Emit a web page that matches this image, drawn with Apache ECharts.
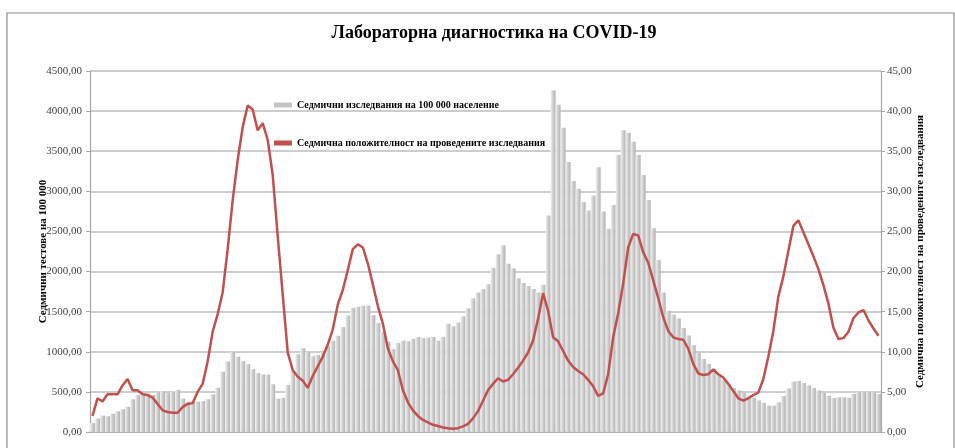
<!DOCTYPE html>
<html>
<head>
<meta charset="utf-8">
<script src="https://cdn.jsdelivr.net/npm/echarts@6/dist/echarts.min.js"></script>
<style>
html,body{margin:0;padding:0;background:#fff;}
#c{width:955px;height:448px;}
</style>
</head>
<body>
<div id="c"></div>
<script>
// Weekly tests per 100 000 population (left axis)
const testsPer100k = [
110,168,204,196,228,259,283,314,409,461,
482,480,464,500,508,485,500,526,416,378,
378,378,384,409,469,551,752,880,996,939,
882,846,783,734,718,715,595,416,425,588,
767,970,1045,997,945,960,996,1070,1137,1199,
1308,1452,1547,1562,1574,1577,1456,1359,1250,1127,
1035,1109,1139,1131,1162,1185,1170,1177,1186,1137,
1187,1350,1318,1365,1442,1541,1667,1739,1782,1842,
2046,2215,2328,2097,2040,1915,1856,1820,1784,1739,
1834,2700,4260,4079,3794,3366,3129,3033,2867,2760,
2947,3300,2750,2534,2830,3454,3761,3729,3619,3453,
3204,2892,2539,2144,1739,1511,1465,1417,1298,1203,
1083,985,911,848,783,722,659,596,548,518,
487,456,425,394,363,330,329,370,449,543,
628,636,611,581,550,519,487,450,423,434,
432,428,475,495,503,500,491,474
];
// Weekly positivity of performed tests, % (right axis)
const positivity = [
2.0,4.2,3.8,4.7,4.7,4.7,5.8,6.6,5.2,5.2,
4.7,4.6,4.3,3.5,2.7,2.5,2.4,2.4,3.1,3.5,
3.6,5.0,6.0,8.8,12.5,14.7,17.4,22.8,28.9,33.9,
38.0,40.7,40.2,37.6,38.5,36.4,32.0,24.4,17.1,9.9,
7.7,6.9,6.4,5.5,7.0,8.2,9.4,10.9,12.8,15.9,
17.7,20.2,22.8,23.4,23.0,21.0,18.4,15.7,13.5,10.4,
8.8,7.7,5.2,3.7,2.7,2.0,1.5,1.2,0.9,0.75,
0.56,0.47,0.41,0.48,0.7,1.0,1.7,2.6,3.9,5.2,
6.0,6.7,6.3,6.5,7.2,8.0,8.9,9.9,11.4,14.1,
17.3,15.1,11.8,11.3,10.1,8.9,8.1,7.6,7.2,6.5,
5.7,4.5,4.8,7.2,11.8,14.8,18.5,23.0,24.7,24.5,
22.4,21.1,18.9,16.7,14.3,12.6,11.8,11.6,11.5,10.4,
8.5,7.3,7.1,7.2,7.8,7.2,6.8,6.0,5.1,4.2,
3.9,4.2,4.6,4.9,6.6,9.4,12.6,16.9,19.4,22.6,
25.7,26.4,24.9,23.4,21.9,20.3,18.3,16.0,13.0,11.6,
11.7,12.5,14.2,14.9,15.2,13.9,12.9,12.0
];
const weeks = testsPer100k.map((_, i) => String(i + 1));
const titleText = 'Лабораторна диагностика на COVID-19';
const barName = 'Седмични изследвания на 100 000 население';
const lineName = 'Седмична положителност на проведените изследвания';
const leftAxisName = 'Седмични тестове на 100 000';
const rightAxisName = 'Седмична положителност на проведените изследвания';

const FONT = '"Liberation Serif", "Times New Roman", serif';
const fmt = v => v.toFixed(2).replace('.', ',');

const chart = echarts.init(document.getElementById('c'), null, {renderer: 'canvas'});
chart.setOption({
  animation: false,
  backgroundColor: '#fff',
  textStyle: {fontFamily: FONT},
  graphic: [{
    type: 'rect',
    shape: {x: 7, y: 13, width: 947, height: 450},
    style: {fill: 'none', stroke: '#8c8c8c', lineWidth: 1.2},
    silent: true, z: -1
  }],
  title: {
    text: titleText,
    left: 489, top: 19, textAlign: 'center',
    textStyle: {fontFamily: FONT, fontWeight: 'bold', fontSize: 18, color: '#000'}
  },
  legend: {
    orient: 'vertical',
    left: 269, top: 95,
    itemGap: 28,
    itemWidth: 18, itemHeight: 5,
    textStyle: {fontFamily: FONT, fontWeight: 'bold', fontSize: 10, color: '#000'},
    data: [
      {name: barName, icon: 'rect', itemStyle: {color: '#c4c4c4'}},
      {name: lineName, icon: 'rect', itemStyle: {color: '#c0504d'}}
    ]
  },
  grid: {left: 90, right: 74, top: 71, bottom: 16, containLabel: false},
  xAxis: {
    type: 'category',
    data: weeks,
    boundaryGap: true,
    axisLine: {show: true, lineStyle: {color: '#a6a6a6', width: 1.5}},
    axisTick: {show: false},
    axisLabel: {show: false},
    splitLine: {show: false}
  },
  yAxis: [{
    type: 'value', min: 0, max: 4500, interval: 500,
    name: leftAxisName, nameLocation: 'middle', nameGap: 41, nameMoveOverlap: false,
    nameTextStyle: {fontFamily: FONT, fontWeight: 'bold', fontSize: 11, color: '#000'},
    axisLine: {show: true, lineStyle: {color: '#a6a6a6', width: 1.2}},
    axisTick: {show: true, length: 4, lineStyle: {color: '#a6a6a6'}},
    axisLabel: {formatter: fmt, fontFamily: FONT, fontSize: 11, color: '#404040', margin: 8},
    splitLine: {show: true, lineStyle: {color: '#bdbdbd', width: 1.5}}
  }, {
    type: 'value', min: 0, max: 45, interval: 5, position: 'right',
    name: rightAxisName, nameLocation: 'middle', nameGap: 34, nameMoveOverlap: false,
    nameTextStyle: {fontFamily: FONT, fontWeight: 'bold', fontSize: 11, color: '#000'},
    axisLine: {show: true, lineStyle: {color: '#a6a6a6', width: 1.2}},
    axisTick: {show: true, length: 4, lineStyle: {color: '#a6a6a6'}},
    axisLabel: {formatter: fmt, fontFamily: FONT, fontSize: 11, color: '#404040', margin: 6},
    splitLine: {show: false}
  }],
  series: [{
    name: barName,
    type: 'bar',
    yAxisIndex: 0,
    data: testsPer100k,
    barCategoryGap: '0%',
    itemStyle: {
      color: new echarts.graphic.LinearGradient(0, 0, 1, 0, [
        {offset: 0, color: '#f3f3f3'},
        {offset: 0.45, color: '#d0d0d0'},
        {offset: 1, color: '#b2b2b2'}
      ])
    },
    z: 1
  }, {
    name: lineName,
    type: 'line',
    yAxisIndex: 1,
    data: positivity,
    symbol: 'none',
    showSymbol: false,
    lineStyle: {color: '#c0504d', width: 2.5},
    itemStyle: {color: '#c0504d'},
    z: 3
  }]
});
</script>
</body>
</html>
